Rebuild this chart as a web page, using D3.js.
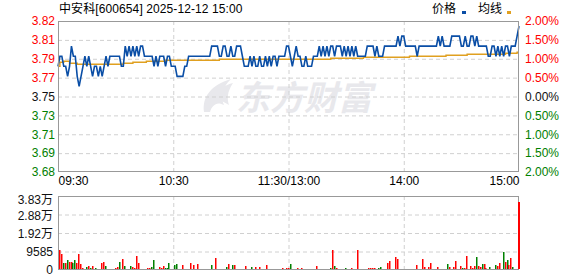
<!DOCTYPE html>
<html>
<head>
<meta charset="utf-8">
<script src="https://cdn.jsdelivr.net/npm/d3@7"></script>
<style>
body { margin: 0; background: #fff; }
svg { display: block; }
svg text { font-family: "Liberation Sans", "Noto Sans CJK SC", sans-serif; font-size: 12px; }
</style>
</head>
<body>
<svg id="chart" width="578" height="276"></svg>
<script>
// data
var title = "中安科[600654] 2025-12-12 15:00";
var prevClose = 3.75;
var pctLevels = [2, 1.5, 1, 0.5, 0, -0.5, -1, -1.5, -2];
var priceLabels = ["3.82", "3.81", "3.79", "3.77", "3.75", "3.73", "3.71", "3.69", "3.68"];
var pctLabels = ["2.00%", "1.50%", "1.00%", "0.50%", "0.00%", "0.50%", "1.00%", "1.50%", "2.00%"];
var timeTicks = [0, 60, 120, 180, 240];
var timeLabels = ["09:30", "10:30", "11:30/13:00", "14:00", "15:00"];
var volTicks = [0, 9585, 19170, 28755, 38340];
var volLabels = ["0", "9585", "1.92万", "2.88万", "3.83万"];

var price = [
  3.78,3.79,3.79,3.78,3.78,3.77,3.78,3.80,3.79,3.79,
  3.77,3.76,3.77,3.78,3.79,3.78,3.79,3.78,3.77,3.78,
  3.78,3.77,3.78,3.77,3.78,3.79,3.78,3.79,3.79,3.79,
  3.79,3.79,3.79,3.78,3.78,3.80,3.79,3.80,3.79,3.80,
  3.79,3.80,3.79,3.80,3.80,3.79,3.79,3.79,3.79,3.79,
  3.78,3.79,3.78,3.79,3.79,3.79,3.78,3.79,3.79,3.78,
  3.78,3.78,3.77,3.77,3.77,3.77,3.78,3.78,3.79,3.79,
  3.79,3.79,3.79,3.79,3.79,3.79,3.79,3.79,3.79,3.79,
  3.80,3.80,3.80,3.80,3.79,3.79,3.80,3.80,3.79,3.79,
  3.80,3.79,3.79,3.80,3.80,3.80,3.79,3.78,3.78,3.78,
  3.79,3.78,3.79,3.78,3.78,3.79,3.78,3.78,3.79,3.78,
  3.79,3.78,3.79,3.79,3.78,3.79,3.79,3.79,3.79,3.80,
  3.80,3.79,3.78,3.79,3.80,3.79,3.79,3.78,3.78,3.79,
  3.78,3.78,3.78,3.79,3.79,3.79,3.80,3.79,3.80,3.79,
  3.80,3.79,3.80,3.80,3.79,3.80,3.80,3.80,3.79,3.80,
  3.79,3.80,3.79,3.80,3.79,3.80,3.79,3.79,3.79,3.79,
  3.79,3.80,3.80,3.80,3.80,3.79,3.80,3.79,3.79,3.79,
  3.80,3.80,3.80,3.80,3.80,3.80,3.80,3.81,3.80,3.81,
  3.81,3.80,3.80,3.80,3.80,3.80,3.80,3.79,3.80,3.80,
  3.80,3.80,3.80,3.80,3.80,3.80,3.80,3.80,3.81,3.80,
  3.81,3.80,3.80,3.80,3.80,3.81,3.81,3.81,3.81,3.81,
  3.80,3.80,3.81,3.80,3.80,3.81,3.81,3.80,3.81,3.80,
  3.80,3.80,3.80,3.80,3.79,3.79,3.80,3.80,3.79,3.80,
  3.79,3.80,3.79,3.80,3.80,3.79,3.80,3.80,3.80,3.81,
  3.82
];

// average line, as the steps it shows
var avgMinute = [0, 1, 3, 6, 10, 34, 39, 46, 56, 84, 142, 159, 183, 202, 213, 233, 239, 240];
var avgPrice = [3.780, 3.784, 3.785, 3.783, 3.782, 3.783, 3.784, 3.785, 3.786, 3.787, 3.788, 3.789, 3.790, 3.791, 3.792, 3.793, 3.794, 3.794];

var volume = [
  10400,8100,3800,3800,5200,4200,4200,3500,5200,3500,
  8100,2900,1200,700,1600,2100,900,2100,400,1100,
  700,700,3800,4200,2100,700,700,700,700,1200,
  1600,4200,700,5900,2100,700,700,2100,1800,1000,
  7300,3800,700,700,700,700,1000,1200,1600,5200,
  700,700,1600,1200,2100,1000,1000,3500,700,700,
  2400,2900,700,700,2400,700,700,700,3500,700,
  2400,700,2900,700,700,700,700,700,700,2700,
  700,6200,700,700,700,700,700,1600,3100,700,
  2600,2600,700,700,700,700,700,2100,700,700,
  1600,700,1600,700,1600,700,700,700,2600,700,
  700,700,700,700,700,700,1000,700,1000,1000,
  3100,700,700,700,1000,700,1000,700,700,700,
  700,700,700,700,2100,700,700,700,700,700,
  700,1000,10400,2100,1000,700,700,700,700,1000,
  700,700,1000,700,700,10400,700,700,700,700,
  700,900,900,1000,1000,700,1000,1700,700,700,
  700,3800,4700,700,700,6700,5700,700,700,700,
  700,700,700,700,700,700,2600,700,700,5700,
  1700,700,1700,3600,700,700,700,1700,700,700,
  700,700,3100,1400,700,1700,4700,700,700,2100,
  1200,1200,7300,700,2100,1200,2100,6700,2100,1700,
  2900,2900,1200,700,1500,700,700,2600,2100,3500,
  700,9300,4200,5200,2600,6200,1500,700,300,300,
  35300
];
var volSide = ("rrgrgrrggr" + "rrrggrgrgg" + "rrrrgrrrrr" + "rgrrgrrgrr" + "rrgrrrrrgg" +
  "rrrrrgggrr" + "ggrrrrrrrr" + "rrrrrrrgrg" + "rrrrrrrgrr" + "grrrrgrrrg" +
  "grrrrrgrrr" + "grrrrrrrrr" + "grgrrrrrrg" + "rrgrrrrrrr" + "rgrgrrrrrg" +
  "rrrrrrrrrr" + "rrrrrgggrr" + "rrrrrrrrrg" + "rgrrrgrrgr" + "rrrrrrrrrr" +
  "rrgrrrrrrr" + "grrrrrrgrr" + "grrrgrrgrr" + "rgrgrrggrr" + "r").split("");

var RED = "#ff0000", GREEN = "#008000", DARK = "#111111";
var PRICE_BLUE = "#0a4ea6", AVG_GOLD = "#e0a020";
var left = 58, right = 519;
var pTop = 21, pBottom = 172;
var vTop = 196, vBottom = 270;

var svg = d3.select("#chart");

var x = d3.scaleLinear().domain([0, 240]).range([left, right]);
var y = d3.scaleLinear()
  .domain([prevClose * 0.98, prevClose * 1.02])
  .range([pBottom, pTop]);
var yv = d3.scaleLinear().domain([0, volTicks[volTicks.length - 1]]).range([vBottom, vTop]);

function levelColor(p) { return p > 0 ? RED : (p < 0 ? GREEN : DARK); }

function dashGrid(g) {
  g.select(".domain").remove();
  g.selectAll("line").attr("stroke", "#d0d0d0").attr("stroke-dasharray", "4,3");
}

// watermark
var wm = svg.append("g").attr("fill", "#e8e8ec");
wm.append("path")
  .attr("d", "M204,112 C202,97 211,85 231,79 C222,88 220,96 224,105 C217,101 212,105 210,112 Z M213,96 C218,89 225,85 233,83 C227,92 227,99 229,105 Z");
wm.append("text")
  .attr("x", 236).attr("y", 110)
  .style("font-family", "'Noto Sans CJK SC', sans-serif")
  .style("font-size", "34px").style("font-weight", "bold").style("font-style", "italic")
  .text("东方财富");

// price grid
svg.append("g")
  .attr("transform", "translate(" + left + ",0)")
  .call(d3.axisLeft(y)
    .tickValues(pctLevels.slice(1, -1).map(function (p) { return prevClose * (1 + p / 100); }))
    .tickSize(-(right - left)).tickFormat(""))
  .call(dashGrid);

svg.append("g")
  .attr("transform", "translate(0," + pBottom + ")")
  .call(d3.axisBottom(x).tickValues(timeTicks.slice(1, -1)).tickSize(-(pBottom - pTop)).tickFormat(""))
  .call(dashGrid);

// volume grid
svg.append("g")
  .attr("transform", "translate(" + left + ",0)")
  .call(d3.axisLeft(yv).tickValues(volTicks.slice(1, -1)).tickSize(-(right - left)).tickFormat(""))
  .call(dashGrid);

svg.append("g")
  .attr("transform", "translate(0," + vBottom + ")")
  .call(d3.axisBottom(x).tickValues(timeTicks.slice(1, -1)).tickSize(-(vBottom - vTop)).tickFormat(""))
  .call(dashGrid);

// average line
var avgData = avgMinute.map(function (m, i) { return [m, avgPrice[i]]; });
svg.append("path")
  .datum(avgData)
  .attr("fill", "none")
  .attr("stroke", AVG_GOLD)
  .attr("stroke-width", 1.4)
  .attr("d", d3.line().x(function (d) { return x(d[0]); }).y(function (d) { return y(d[1]); }).curve(d3.curveStepAfter));

// price line
svg.append("path")
  .datum(price)
  .attr("fill", "none")
  .attr("stroke", PRICE_BLUE)
  .attr("stroke-width", 1.6)
  .attr("d", d3.line().x(function (d, i) { return x(i); }).y(function (d) { return y(d); }));

// frames
[[pTop, pBottom], [vTop, vBottom]].forEach(function (f) {
  svg.append("rect")
    .attr("x", left + 0.5).attr("y", f[0] + 0.5)
    .attr("width", right - left - 1).attr("height", f[1] - f[0] - 1)
    .attr("fill", "none").attr("stroke", "#999").attr("stroke-width", 1);
});

// volume bars (over the frame, like the original)
var last = volume.length - 1;
svg.append("g")
  .selectAll("rect")
  .data(volume)
  .enter().append("rect")
  .attr("x", function (d, i) { return i === last ? right - 1 : Math.round(x(i)) + 1; })
  .attr("y", function (d) { return Math.round(yv(d)); })
  .attr("width", function (d, i) { return i === last ? 2 : 1.5; })
  .attr("height", function (d) { return vBottom - 1 - Math.round(yv(d)); })
  .attr("fill", function (d, i) { return volSide[i] === "g" ? GREEN : RED; });

// left price axis
var leftAxis = svg.append("g")
  .attr("transform", "translate(" + (left - 3) + ",0)")
  .call(d3.axisLeft(y)
    .tickValues(pctLevels.map(function (p) { return prevClose * (1 + p / 100); }))
    .tickSize(0).tickPadding(0)
    .tickFormat(function (d, i) { return priceLabels[i]; }));
leftAxis.select(".domain").remove();
leftAxis.selectAll("text")
  .attr("fill", function (d, i) { return levelColor(pctLevels[i]); })
  .style("font-size", "12px");

// right percent axis
var rightAxis = svg.append("g")
  .attr("transform", "translate(" + (right + 6) + ",0)")
  .call(d3.axisRight(y)
    .tickValues(pctLevels.map(function (p) { return prevClose * (1 + p / 100); }))
    .tickSize(0).tickPadding(0)
    .tickFormat(function (d, i) { return pctLabels[i]; }));
rightAxis.select(".domain").remove();
rightAxis.selectAll("text")
  .attr("fill", function (d, i) { return levelColor(pctLevels[i]); })
  .style("font-size", "12px");

// time axis
var timeAxis = svg.append("g")
  .attr("transform", "translate(0," + (pBottom + 4) + ")")
  .call(d3.axisBottom(x).tickValues(timeTicks).tickSize(0).tickPadding(0)
    .tickFormat(function (d, i) { return timeLabels[i]; }));
timeAxis.select(".domain").remove();
timeAxis.selectAll("text")
  .attr("fill", "#000")
  .style("font-size", "12px")
  .attr("text-anchor", function (d, i) { return i === 0 ? "start" : (i === timeTicks.length - 1 ? "end" : "middle"); });

// volume axis
var volShift = [0, 0.5, 1, 2, 4];
var volAxis = svg.append("g")
  .attr("transform", "translate(" + (left - 5) + ",0)")
  .call(d3.axisLeft(yv).tickValues(volTicks).tickSize(0).tickPadding(0)
    .tickFormat(function (d, i) { return volLabels[i]; }));
volAxis.select(".domain").remove();
volAxis.selectAll(".tick")
  .attr("transform", function (d, i) { return "translate(0," + (yv(d) + volShift[i]) + ")"; });
volAxis.selectAll("text").attr("fill", DARK).style("font-size", "12px");

// title and legend
svg.append("text").attr("x", 59).attr("y", 13).attr("fill", "#000")
  .style("letter-spacing", "0.1px").text(title);
var legend = svg.append("g");
legend.append("text").attr("x", 432).attr("y", 13).attr("fill", "#000").text("价格");
legend.append("rect").attr("x", 462).attr("y", 11).attr("width", 4).attr("height", 3).attr("fill", PRICE_BLUE);
legend.append("text").attr("x", 478).attr("y", 13).attr("fill", "#000").text("均线");
legend.append("rect").attr("x", 507).attr("y", 11).attr("width", 4).attr("height", 3).attr("fill", AVG_GOLD);
</script>
</body>
</html>
